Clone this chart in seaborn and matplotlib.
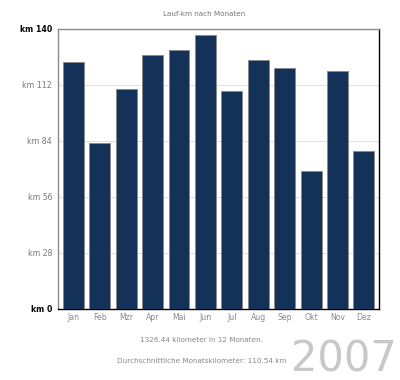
import pandas as pd
import matplotlib.pyplot as plt
import seaborn as sns

months = ['Jan', 'Feb', 'Mzr', 'Apr', 'Mai', 'Jun', 'Jul', 'Aug', 'Sep', 'Okt', 'Nov', 'Dez']
km = [123.2, 82.9, 109.7, 126.9, 129.2, 136.7, 108.9, 124.2, 120.2, 69.0, 119.0, 78.9]
y_ticks = [0, 28, 56, 84, 112, 140]
y_labels = ['km 0', 'km 28', 'km 56', 'km 84', 'km 112', 'km 140']


def plot_monthly_km():
    sns.set_style('white')
    plt.rcParams['font.family'] = ['DejaVu Sans']

    df = pd.DataFrame({'monat': months, 'km': km})

    fig = plt.figure(figsize=(4, 3.8), dpi=100)
    ax = fig.add_axes([0.144, 0.187, 0.804, 0.737])

    sns.barplot(data=df, x='monat', y='km', color='#14315a', saturation=1,
                width=0.79, edgecolor='#8a8a8a', linewidth=0.7, ax=ax, zorder=3)

    ax.set_ylim(0, 140)
    ax.set_xlim(-0.6, 11.58)
    ax.set_yticks(y_ticks)
    ax.set_yticklabels(y_labels)
    for i, lab in enumerate(ax.get_yticklabels()):
        if i in (0, len(y_ticks) - 1):
            lab.set_color('black')
            lab.set_fontweight('bold')
        else:
            lab.set_color('#777777')
    ax.tick_params(axis='y', labelsize=5.6, length=3, width=0.6, color='#555555', pad=1)
    ax.tick_params(axis='x', labelsize=5.6, colors='#888888', length=0, pad=3)
    for lab in ax.get_xticklabels():
        lab.set_color('#888888')
    ax.set_xlabel('')
    ax.set_ylabel('')

    ax.yaxis.grid(True, color='#e2e2e2', linewidth=0.8, zorder=0)
    ax.set_axisbelow(True)

    for side in ['left', 'top']:
        ax.spines[side].set_color('#8a8a8a')
        ax.spines[side].set_linewidth(1.0)
    for side in ['right', 'bottom']:
        ax.spines[side].set_color('black')
        ax.spines[side].set_linewidth(1.0)
    for side in ax.spines:
        ax.spines[side].set_visible(True)

    fig.text(0.51, 0.963, 'Lauf-km nach Monaten', ha='center', va='center',
             fontsize=5.2, color='#777777')
    fig.text(0.504, 0.105, '1326.44 kilometer in 12 Monaten.', ha='center', va='center',
             fontsize=5.2, color='#888888')
    fig.text(0.504, 0.05, 'Durchschnittliche Monatskilometer: 110.54 km', ha='center',
             va='center', fontsize=5.2, color='#888888')
    fig.text(0.86, 0.053, '2007', ha='center', va='center', fontsize=30,
             color='#c8c8c8', fontweight='normal')

    fig.savefig('out.png', dpi=100)
    plt.close(fig)


if __name__ == '__main__':
    plot_monthly_km()
